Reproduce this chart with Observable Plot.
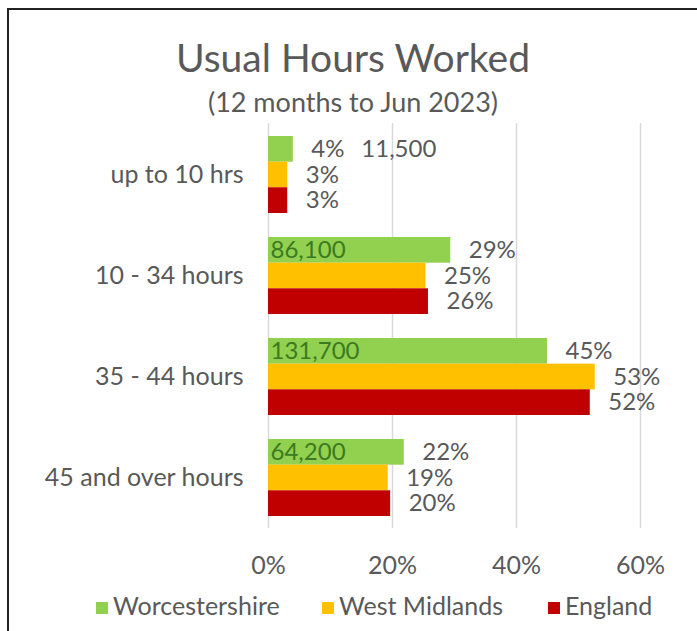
<!DOCTYPE html>
<html>
<head>
<meta charset="utf-8">
<script src="https://cdn.jsdelivr.net/npm/d3@7"></script>
<script src="https://cdn.jsdelivr.net/npm/@observablehq/plot@0.6"></script>
<style>
  html, body { margin: 0; padding: 0; background: #fff; }
  body { width: 697px; height: 631px; position: relative; overflow: hidden; font-family: Lato, "Open Sans", sans-serif; color: #595959; }
  #frame { position: absolute; left: 7px; top: 8px; width: 760px; height: 700px; border: 2px solid #222; box-sizing: border-box; }
  #title { position: absolute; left: 0; width: 706px; top: 34px; text-align: center; font-size: 39px; line-height: 46px; }
  #subtitle { position: absolute; left: 0; width: 706px; top: 86px; text-align: center; font-size: 27px; line-height: 32px; }
  #chart { position: absolute; left: 0; top: 120px; }
  #legend { position: absolute; top: 589px; left: 0; width: 697px; height: 32px; font-size: 25px; line-height: 32px; }
  #legend span.item { position: absolute; top: 0; white-space: nowrap; }
  #legend span.sw { display: inline-block; width: 12px; height: 12px; margin-right: 5px; vertical-align: 1px; }
</style>
</head>
<body>
<div id="frame"></div>
<div id="title">Usual Hours Worked</div>
<div id="subtitle">(12 months to Jun 2023)</div>
<div id="chart"></div>
<div id="legend"></div>
<script>
const categories = ["up to 10 hrs", "10 - 34 hours", "35 - 44 hours", "45 and over hours"];
const series = ["Worcestershire", "West Midlands", "England"];
const colors = ["#92D050", "#FFC000", "#C00000"];
const worcestershire = [4.0, 29.4, 45.0, 21.9];
const westMidlands = [3.1, 25.4, 52.7, 19.3];
const england = [3.1, 25.8, 51.9, 19.7];
const worcsCounts = ["11,500", "86,100", "131,700", "64,200"];
const xTicks = [0, 20, 40, 60];

const seriesValues = [worcestershire, westMidlands, england];
const data = [];
categories.forEach((c, i) => {
  series.forEach((s, j) => {
    data.push({category: c, series: s, value: seriesValues[j][i] / 100});
  });
});
const counts = categories.map((c, i) => ({category: c, value: worcestershire[i] / 100, label: worcsCounts[i]}));

const pctFmt = d => Math.round(d.value * 100) + "%";

const W = 697, H = 460, mT = 3, mB = 52;
const paddingInner = 0.24;
const step = (H - mT - mB) / categories.length;
const third = step * (1 - paddingInner) / 3;
const labelSize = 24;

const marks = [
  Plot.ruleX(xTicks.map(t => t / 100), {stroke: "#d9d9d9", strokeWidth: 1.5})
];
series.forEach((s, j) => {
  const rows = data.filter(d => d.series === s);
  marks.push(Plot.barX(rows, {x: "value", y: "category", fill: colors[j], insetTop: j * third, insetBottom: (2 - j) * third}));
  marks.push(Plot.text(rows, {x: "value", y: "category", dy: (j - 1) * third, text: pctFmt, textAnchor: "start", dx: 18, fill: "#595959", fontSize: labelSize}));
});
marks.push(Plot.text(counts.filter(d => d.value >= 0.1), {x: 0, y: "category", dy: -third, text: "label", textAnchor: "start", dx: 2, fill: "#3c7a22", fontSize: labelSize}));
marks.push(Plot.text(counts.filter(d => d.value < 0.1), {x: "value", y: "category", dy: -third, text: "label", textAnchor: "start", dx: 68, fill: "#595959", fontSize: labelSize}));

const chart = Plot.plot({
  width: W,
  height: H,
  marginLeft: 268,
  marginRight: 57,
  marginTop: mT,
  marginBottom: mB,
  style: {fontFamily: "Lato, 'Open Sans', sans-serif", fontSize: "25px", color: "#595959", background: "transparent", overflow: "visible"},
  x: {domain: [0, 0.6], ticks: xTicks.map(t => t / 100), tickFormat: d => Math.round(d * 100) + "%", tickSize: 0, tickPadding: 28, label: null, axis: "bottom"},
  y: {domain: categories, label: null, paddingInner: paddingInner, paddingOuter: paddingInner / 2, tickSize: 0, tickPadding: 25, axis: "left"},
  marks
});
document.getElementById("chart").appendChild(chart);

const legend = document.getElementById("legend");
const legendX = [96, 322, 548];
series.forEach((s, i) => {
  const item = document.createElement("span");
  item.className = "item";
  item.style.left = legendX[i] + "px";
  const sw = document.createElement("span");
  sw.className = "sw";
  sw.style.background = colors[i];
  item.appendChild(sw);
  item.appendChild(document.createTextNode(s));
  legend.appendChild(item);
});
</script>
</body>
</html>
